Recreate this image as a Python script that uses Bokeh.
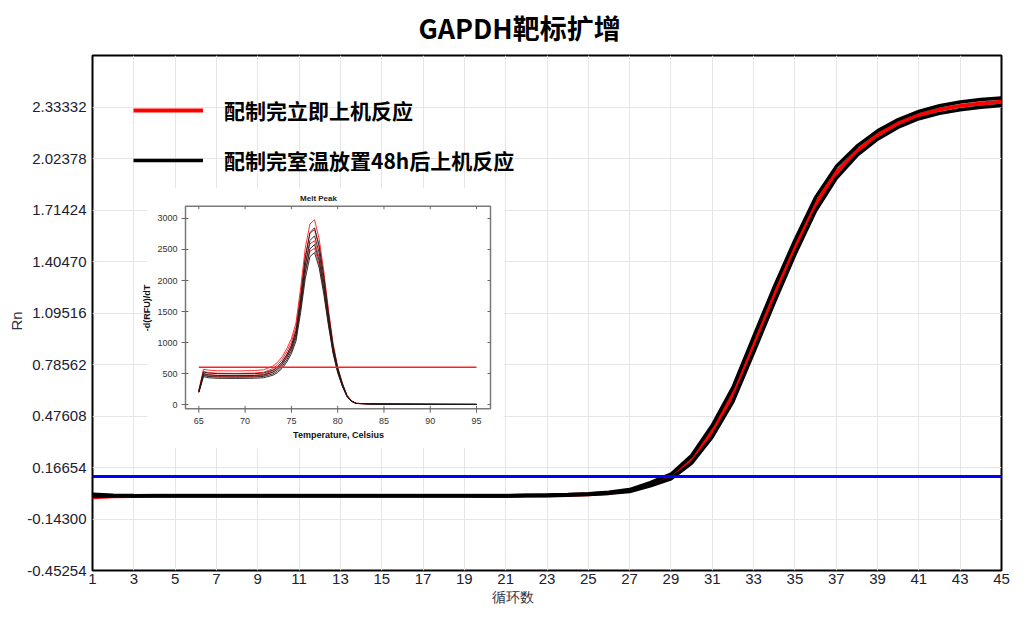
import math
from bokeh.plotting import figure
from bokeh.models import Range1d, FixedTicker, NumeralTickFormatter, Span, Legend, LegendItem, Title
from bokeh.core.properties import value
from bokeh.embed import file_html
from bokeh.resources import INLINE

# ---------------- data: amplification curves ----------------
cycles = list(range(1, 46))
red_rn = [
    -0.012, -0.007, -0.005, -0.004, -0.004, -0.003, -0.003, -0.003, -0.003, -0.003,
    -0.003, -0.003, -0.003, -0.003, -0.003, -0.003, -0.003, -0.003, -0.003, -0.003,
    -0.003, -0.002, -0.001, 0.002, 0.006, 0.014, 0.028, 0.066, 0.112, 0.215,
    0.385, 0.605, 0.905, 1.205, 1.490, 1.750, 1.940, 2.070, 2.165, 2.235,
    2.285, 2.318, 2.340, 2.355, 2.365]
black_rn_early = [
    0.006, 0.000, -0.002, -0.003, -0.003, -0.003, -0.003, -0.003, -0.003, -0.003,
    -0.003, -0.003, -0.003, -0.003, -0.003, -0.003, -0.003, -0.003, -0.003, -0.003,
    -0.003, -0.001, 0.001, 0.004, 0.009, 0.018, 0.034, 0.076, 0.126, 0.238,
    0.420, 0.648, 0.952, 1.252, 1.533, 1.790, 1.975, 2.098, 2.190, 2.258,
    2.307, 2.341, 2.363, 2.378, 2.388]
black_rn_late = [
    -0.005, -0.005, -0.005, -0.004, -0.004, -0.004, -0.004, -0.004, -0.004, -0.004,
    -0.004, -0.004, -0.004, -0.004, -0.004, -0.004, -0.004, -0.004, -0.004, -0.005,
    -0.005, -0.004, -0.003, 0.000, 0.004, 0.011, 0.022, 0.057, 0.099, 0.193,
    0.350, 0.563, 0.858, 1.158, 1.447, 1.710, 1.905, 2.042, 2.140, 2.212,
    2.263, 2.295, 2.317, 2.332, 2.342]
threshold = 0.113
x_ticks = list(range(1, 46, 2))
y_ticks = [-0.45254, -0.14300, 0.16654, 0.47608, 0.78562, 1.09516, 1.40470, 1.71424, 2.02378, 2.33332]
y_min, y_max = -0.45254, 2.64286
title_text = "GAPDH靶标扩增"
x_label = "循环数"
y_label = "Rn"
legend_labels = ["配制完立即上机反应", "配制完室温放置48h后上机反应"]

# ---------------- data: melt peak inset ----------------
melt_temp = [65, 65.5, 66, 67, 69, 71, 72, 73, 73.5, 74, 74.5, 75, 75.5, 76, 76.5, 77, 77.5,
             78, 78.5, 79, 79.5, 80, 80.5, 81, 81.5, 82, 84, 87, 91, 95]
melt_red = [
    [230, 570, 555, 545, 542, 548, 560, 620, 680, 770, 900, 1060, 1320, 1880, 2520, 2910, 2980, 2670, 2150, 1540, 990, 610, 350, 150, 60, 20, 9, 5, 3, 2],
    [220, 535, 515, 505, 502, 507, 520, 580, 640, 725, 850, 1005, 1250, 1780, 2390, 2760, 2820, 2530, 2040, 1460, 940, 585, 335, 145, 57, 19, 8, 5, 3, 2],
    [210, 505, 482, 470, 468, 472, 485, 545, 600, 685, 800, 950, 1180, 1670, 2240, 2590, 2640, 2370, 1910, 1370, 880, 550, 315, 138, 54, 18, 8, 5, 3, 2],
    [200, 485, 462, 452, 450, 454, 466, 522, 575, 655, 765, 905, 1125, 1600, 2140, 2470, 2520, 2260, 1830, 1310, 845, 528, 302, 132, 52, 17, 8, 5, 3, 2],
]
melt_black = [
    [215, 525, 508, 498, 495, 498, 508, 555, 605, 685, 800, 950, 1190, 1720, 2360, 2770, 2850, 2560, 2070, 1480, 950, 590, 340, 148, 58, 19, 8, 5, 3, 2],
    [205, 495, 478, 468, 465, 468, 478, 522, 570, 648, 760, 905, 1135, 1640, 2250, 2645, 2720, 2445, 1975, 1415, 910, 565, 325, 142, 56, 18, 8, 5, 3, 2],
    [200, 470, 452, 443, 441, 444, 453, 495, 540, 615, 720, 860, 1080, 1560, 2135, 2510, 2580, 2320, 1875, 1345, 865, 538, 310, 136, 53, 17, 8, 5, 3, 2],
    [195, 450, 432, 423, 421, 424, 432, 472, 515, 585, 685, 820, 1025, 1485, 2030, 2385, 2450, 2205, 1780, 1280, 825, 512, 295, 130, 51, 17, 8, 5, 3, 2],
]
melt_threshold = 600
melt_x_ticks = [65, 70, 75, 80, 85, 90, 95]
melt_y_ticks = [0, 500, 1000, 1500, 2000, 2500, 3000]
melt_title = "Melt Peak"
melt_x_label = "Temperature, Celsius"
melt_y_label = "-d(RFU)/dT"

# ---------------- layout (canvas pixels) ----------------
W, H = 1010, 606
FL, FR, FT, FB = 92, 1001, 54, 570                         # main frame
BL, BR, BT, BB = FL, W - FR, FT, H - FB
IL, IR, IT, IB = 185, 490, 205, 408                        # inset frame
MX0, MX1, MY0, MY1 = 63.56, 96.51, -69, 3198               # inset data limits

mxpp = (MX1 - MX0) / (IR - IL)
mypp = (MY1 - MY0) / (IB - IT)
mx_start, mx_end = MX0 - (IL - FL) * mxpp, MX1 + (FR - IR) * mxpp
my_start, my_end = MY0 - (FB - IB) * mypp, MY1 + (IT - FT) * mypp

def mx(px):
    return MX0 + (px - IL) * mxpp

def my(py):
    return MY0 + (IB - py) * mypp

TICK_FONT = "Liberation Sans"
CJK = "Noto Sans CJK SC"

p = figure(width=W, height=H, x_range=Range1d(1, 45), y_range=Range1d(y_min, y_max),
           output_backend="svg", toolbar_location=None,
           min_border_left=BL, min_border_right=BR, min_border_top=BT, min_border_bottom=BB)
p.background_fill_color = "white"
p.border_fill_color = "white"
p.outline_line_color = "black"
p.outline_line_width = 2

p.xaxis.ticker = FixedTicker(ticks=x_ticks)
p.yaxis.ticker = FixedTicker(ticks=y_ticks)
p.yaxis.formatter = NumeralTickFormatter(format="0.00000")
for ax in (p.xaxis[0], p.yaxis[0]):
    ax.axis_line_color = None
    ax.major_tick_line_color = None
    ax.minor_tick_line_color = None
    ax.major_tick_out = 0
    ax.major_tick_in = 0
    ax.major_label_text_font = TICK_FONT
    ax.major_label_text_font_size = "15px"
    ax.major_label_text_color = "#202030"
p.yaxis.major_label_standoff = 6
p.xaxis.major_label_standoff = 3
p.grid.grid_line_color = "#e6e6e6"
p.grid.grid_line_width = 1

p.extra_x_ranges = {"mx": Range1d(mx_start, mx_end)}
p.extra_y_ranges = {"my": Range1d(my_start, my_end)}
kw = dict(x_range_name="mx", y_range_name="my")

# inset background and frame
p.quad(left=[mx(147)], right=[mx(503)], bottom=[my(447)], top=[my(187)],
       fill_color="white", line_color=None, **kw)

for s in melt_red:
    p.line(melt_temp, s, line_color="#ff1a1a", line_width=1, line_alpha=0.9, **kw)
for s in melt_black:
    p.line(melt_temp, s, line_color="#1a1a1a", line_width=1, line_alpha=0.9, **kw)
p.line([melt_temp[0], melt_temp[-1]], [melt_threshold, melt_threshold],
       line_color="#ff2020", line_width=1.5, **kw)

p.quad(left=[MX0], right=[MX1], bottom=[MY0], top=[MY1], fill_color=None,
       line_color="#7a7a7a", line_width=1.5, **kw)

ny, nx = len(melt_y_ticks), len(melt_x_ticks)
p.segment(x0=[mx(IL - 4)] * ny, y0=melt_y_ticks, x1=[mx(IL + 3)] * ny, y1=melt_y_ticks,
          line_color="#666666", line_width=1, **kw)
p.segment(x0=[mx(IR - 3)] * ny, y0=melt_y_ticks, x1=[mx(IR)] * ny, y1=melt_y_ticks,
          line_color="#666666", line_width=1, **kw)
p.segment(x0=melt_x_ticks, y0=[my(IB + 4)] * nx, x1=melt_x_ticks, y1=[my(IB - 3)] * nx,
          line_color="#666666", line_width=1, **kw)
p.segment(x0=melt_x_ticks, y0=[my(IT)] * nx, x1=melt_x_ticks, y1=[my(IT + 3)] * nx,
          line_color="#666666", line_width=1, **kw)

p.text(x=[mx(IL - 8)] * ny, y=melt_y_ticks, text=[str(t) for t in melt_y_ticks],
       text_align="right", text_baseline="middle", text_font=value("Liberation Sans"),
       text_font_size="9px", text_color="#333333", **kw)
p.text(x=melt_x_ticks, y=[my(IB + 12)] * nx, text=[str(t) for t in melt_x_ticks],
       text_align="center", text_baseline="middle", text_font=value("Liberation Sans"),
       text_font_size="9px", text_color="#333333", **kw)
p.text(x=[mx(318)], y=[my(197)], text=[melt_title], text_align="center", text_baseline="middle",
       text_font=value("Liberation Sans"), text_font_size="8px", text_font_style="bold",
       text_color="#222222", **kw)
p.text(x=[mx(338)], y=[my(434)], text=[melt_x_label], text_align="center", text_baseline="middle",
       text_font=value("Liberation Sans"), text_font_size="9px", text_font_style="bold",
       text_color="#111111", **kw)
p.text(x=[mx(146)], y=[my(307)], text=[melt_y_label], angle=math.pi / 2, text_align="center",
       text_baseline="middle", text_font=value("Liberation Sans"), text_font_size="9px",
       text_font_style="bold", text_color="#111111", **kw)

# main amplification curves
r_red = p.line(cycles, red_rn, line_color="#ff0000", line_width=4)
r_bk1 = p.line(cycles, black_rn_early, line_color="black", line_width=3.5)
r_bk2 = p.line(cycles, black_rn_late, line_color="black", line_width=3.5)

p.add_layout(Span(location=threshold, dimension="width", line_color="#0000ff", line_width=3))

legend = Legend(items=[LegendItem(label=legend_labels[0], renderers=[r_red]),
                       LegendItem(label=legend_labels[1], renderers=[r_bk1])],
                location=(41, FB - 175), background_fill_alpha=0, border_line_alpha=0,
                label_text_font=CJK, label_text_font_style="bold", label_text_font_size="21px",
                label_text_color="black", glyph_width=70, glyph_height=20, label_height=20,
                label_standoff=21, spacing=20, padding=0, margin=0)
p.add_layout(legend)

# title and axis titles (as side-panel titles)
p.add_layout(Title(text=title_text, align="left", offset=418 - FL, standoff=14,
                   vertical_align="top",
                   text_font=CJK, text_font_size="27px", text_font_style="bold",
                   text_color="black"), "above")
p.add_layout(Title(text=x_label, align="left", offset=491 - FL, standoff=0,
                   text_font="Liberation Sans", text_font_size="14px", text_font_style="normal",
                   text_color="#303040"), "below")
p.add_layout(Title(text=y_label, align="left", offset=FB - 330, standoff=0,
                   text_font="Liberation Sans", text_font_size="15px", text_font_style="normal",
                   text_color="#303040"), "left")

open("out.html", "w").write(file_html(p, INLINE))
